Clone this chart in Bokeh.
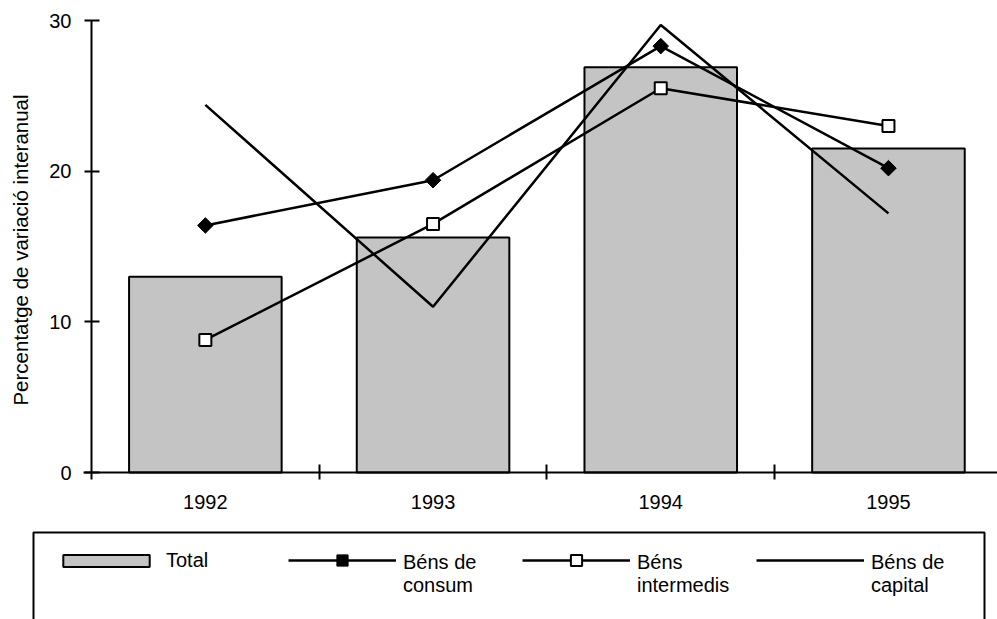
import numpy as np
from bokeh.plotting import figure
from bokeh.models import (Range1d, FixedTicker, Legend, LegendItem,
                          ColumnDataSource, BoxAnnotation)
from bokeh.embed import file_html
from bokeh.resources import INLINE

# ---- data ----
years = ["1992", "1993", "1994", "1995"]
total = [13.0, 15.6, 26.9, 21.5]
bens_consum = [16.4, 19.4, 28.3, 20.2]
bens_intermedis = [8.8, 16.5, 25.5, 23.0]
bens_capital = [24.4, 11.0, 29.7, 17.2]
y_ticks = [0, 10, 20, 30]
series_labels = ["Total", "Béns de\nconsum", "Béns\nintermedis", "Béns de\ncapital"]

FONT = "Liberation Sans"

n = len(years)
xc = np.arange(n) + 0.5          # category centres
xb = np.arange(1, n)             # category boundaries

src = ColumnDataSource(dict(x=xc, total=total, consum=bens_consum,
                            inter=bens_intermedis, capital=bens_capital))

W, H = 997, 619
x_px = 227.7                     # pixels per category
y_px = 452 / 30.0                # pixels per unit
x0, y0 = 91, 472                 # pixel position of origin
x_range = Range1d(-x0 / x_px, (W - x0) / x_px)
y_range = Range1d(-(H - y0) / y_px, 30 + 20 / y_px)

p = figure(width=W, height=H, output_backend="svg", toolbar_location=None,
           x_range=x_range, y_range=y_range,
           min_border_left=0, min_border_top=0, min_border_bottom=0,
           min_border_right=0)
p.outline_line_color = None
p.grid.visible = False
p.background_fill_color = "white"
p.border_fill_color = "white"

bars = p.vbar(x="x", top="total", width=0.67, bottom=0, source=src,
              fill_color="#c4c4c4", line_color="black", line_width=2)

l_cons = p.line("x", "consum", source=src, line_color="black", line_width=2.5)
m_cons = p.scatter("x", "consum", source=src, marker="square", angle=np.pi / 4,
                   size=11, fill_color="black", line_color="black", line_width=1)
l_int = p.line("x", "inter", source=src, line_color="black", line_width=2.5)
m_int = p.scatter("x", "inter", source=src, marker="square", size=12,
                  fill_color="white", line_color="black", line_width=2)
l_cap = p.line("x", "capital", source=src, line_color="black", line_width=2.5)

# ---- x axis ----
xa = p.xaxis[0]
xa.fixed_location = 0
xa.bounds = (-8 / x_px, x_range.end)
xa.ticker = FixedTicker(ticks=list(xc), minor_ticks=list(xb))
xa.major_label_overrides = {float(v): y for v, y in zip(xc, years)}
xa.major_tick_in = 0
xa.major_tick_out = 0
xa.minor_tick_in = 8
xa.minor_tick_out = 7
xa.minor_tick_line_width = 2
xa.minor_tick_line_color = "black"
xa.axis_line_width = 2
xa.major_label_standoff = 15
xa.major_label_text_font = FONT
xa.major_label_text_font_size = "20px"
xa.major_label_text_color = "black"

# ---- y axis ----
ya = p.yaxis[0]
ya.fixed_location = 0
ya.bounds = (-7 / y_px, 30)
ya.ticker = FixedTicker(ticks=y_ticks, minor_ticks=[])
ya.major_tick_in = 8
ya.major_tick_out = 7
ya.major_tick_line_width = 2
ya.axis_line_width = 2
ya.major_label_standoff = 13
ya.major_label_text_font = FONT
ya.major_label_text_font_size = "20px"
ya.major_label_text_color = "black"
ya.axis_label = "Percentatge de variació interanual"
ya.axis_label_text_font = FONT
ya.axis_label_text_font_size = "20.5px"
ya.axis_label_text_font_style = "normal"
ya.axis_label_text_color = "black"
ya.axis_label_standoff = 14

# ---- legend frame ----
box = BoxAnnotation(left=(33 - x0) / x_px, right=(984 - x0) / x_px,
                    top=(y0 - 532) / y_px, bottom=y_range.start - 1,
                    fill_color="white", fill_alpha=1,
                    line_color="black", line_alpha=1, line_width=2,
                    level="annotation")
p.add_layout(box)


def make_legend(items, loc, **kw):
    lg = Legend(items=items, orientation="horizontal", location=loc,
                padding=0, margin=0, border_line_color=None,
                background_fill_alpha=0,
                label_text_font=FONT, label_text_font_size="20px",
                label_text_color="black", **kw)
    p.add_layout(lg, "center")
    return lg


# Total: swatch + label
make_legend([LegendItem(label=series_labels[0], renderers=[bars])], (52, 47),
            glyph_width=108, glyph_height=15, label_standoff=6)

# line samples (glyphs only)
make_legend([LegendItem(label="", renderers=[l_cons, m_cons]),
             LegendItem(label="", renderers=[l_int, m_int]),
             LegendItem(label="", renderers=[l_cap])], (288, 45),
            glyph_width=108, glyph_height=28, label_standoff=0,
            label_width=0, label_height=0, spacing=126)

# two-line labels for the line series (no sample drawn)
make_legend([LegendItem(label=series_labels[1], renderers=[l_cons]),
             LegendItem(label=series_labels[2], renderers=[l_int]),
             LegendItem(label=series_labels[3], renderers=[l_cap])], (403, 22),
            glyph_width=0, glyph_height=20, label_standoff=0,
            label_width=100, spacing=134)

open("out.html", "w").write(file_html(p, INLINE))
